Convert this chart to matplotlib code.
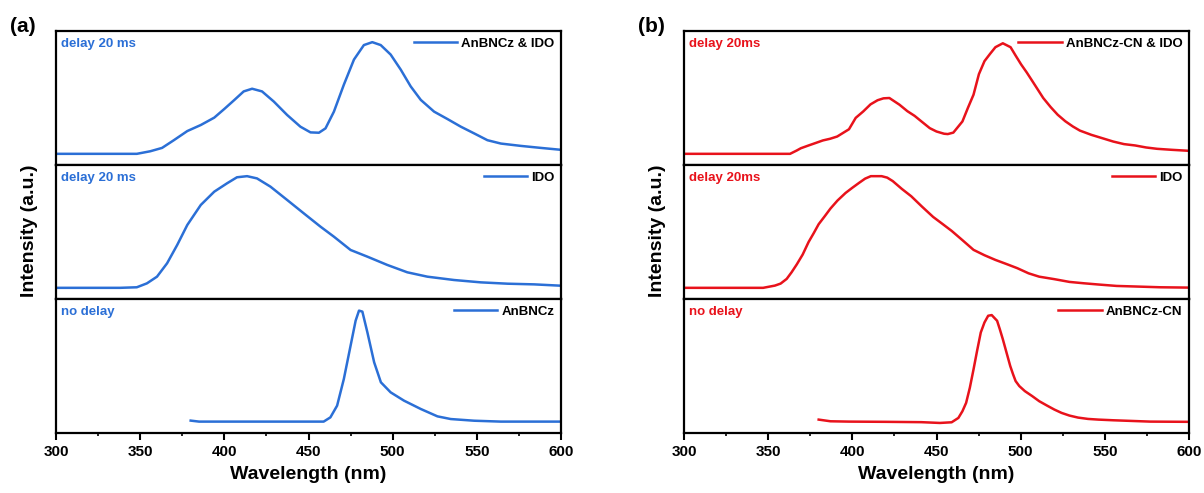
import matplotlib
import matplotlib.pyplot as plt

matplotlib.use("Agg")

plt.rcParams["font.family"] = ["Liberation Sans", "DejaVu Sans"]
plt.rcParams["font.weight"] = "bold"

BLUE = "#2b6fd6"
RED = "#e8121b"

# ---- panel (a) ----
a_mix_wl = [300, 338, 348, 356, 363, 370, 378, 386, 394, 400, 406, 411.5, 416.5, 422.4, 429.4,
            437.3, 445.2, 451.2, 456.2, 460.1, 465.1, 471, 477, 482.9, 487.9, 492.9, 498.8,
            504.8, 510.7, 516.7, 524.6, 532.5, 540.5, 548.4, 556.3, 564.3, 576.2, 588.1, 600]
a_mix_int = [0.0, 0.0, 0.0, 0.023, 0.053, 0.122, 0.204, 0.258, 0.324, 0.402, 0.483, 0.559,
             0.583, 0.559, 0.468, 0.348, 0.243, 0.192, 0.189, 0.228, 0.378, 0.619, 0.844,
             0.974, 1.0, 0.974, 0.889, 0.754, 0.604, 0.483, 0.378, 0.312, 0.243, 0.183,
             0.122, 0.092, 0.071, 0.053, 0.036]

a_ido_wl = [300, 338, 348, 354, 360, 366, 372, 378, 386, 394, 401.6, 407.5, 413.5, 419.4,
            427.4, 437.3, 447.2, 457.1, 465.1, 475, 485, 496.8, 508.7, 520.6, 536.5, 552.4,
            568.3, 584.1, 600]
a_ido_int = [0.0, 0.0, 0.005, 0.04, 0.1, 0.22, 0.384, 0.563, 0.742, 0.861, 0.936, 0.99, 1.0,
             0.98, 0.906, 0.787, 0.667, 0.548, 0.458, 0.339, 0.279, 0.205, 0.139, 0.1, 0.07,
             0.049, 0.037, 0.031, 0.019]

a_an_wl = [380, 385, 404, 426, 445, 459, 463, 467, 471, 475, 478, 480, 482, 485, 489, 493,
           498.8, 506.7, 516.7, 526.6, 534.5, 548.4, 564.3, 600]
a_an_int = [0.011, 0.002, 0.002, 0.002, 0.002, 0.002, 0.04, 0.145, 0.384, 0.682, 0.906, 0.996,
            0.987, 0.8, 0.533, 0.354, 0.264, 0.19, 0.115, 0.049, 0.025, 0.01, 0.002, 0.002]

# ---- panel (b) ----
b_mix_wl = [300, 363, 367, 369.4, 374, 378, 382.5, 386.8, 391, 398, 402, 406.5, 410.8, 415,
            418.5, 422, 428, 432.7, 437, 441.4, 446, 450, 454.5, 456.7, 460, 465.4, 468.7,
            472, 475.2, 478.5, 481.8, 485, 489.4, 494, 497, 500.3, 503.6, 507, 513.4, 517.8,
            522, 526.5, 531, 535.2, 542, 548.3, 555, 561.4, 568, 574.5, 581, 589.8, 600]
b_mix_int = [0.0, 0.0, 0.03, 0.05, 0.075, 0.096, 0.12, 0.135, 0.155, 0.22, 0.322, 0.38,
             0.443, 0.48, 0.497, 0.5, 0.44, 0.382, 0.34, 0.286, 0.23, 0.2, 0.18, 0.177, 0.19,
             0.29, 0.413, 0.53, 0.714, 0.83, 0.895, 0.955, 0.99, 0.955, 0.88, 0.8, 0.729,
             0.65, 0.5, 0.419, 0.35, 0.292, 0.245, 0.208, 0.17, 0.141, 0.11, 0.087, 0.075,
             0.057, 0.045, 0.036, 0.027]

b_ido_wl = [300, 347, 354, 357.4, 361, 363.9, 367, 370.5, 374, 377, 380, 383.6, 387, 391.2,
            396, 399.9, 404, 407.6, 411, 414, 417.4, 420.7, 424, 429.4, 435, 441.4, 448,
            453.4, 459, 465.4, 472, 478.5, 485, 491.6, 498, 504.7, 511, 519.9, 529, 537.4,
            546, 557, 568, 583, 600]
b_ido_int = [0.0, 0.0, 0.02, 0.038, 0.08, 0.139, 0.21, 0.298, 0.41, 0.488, 0.57, 0.641, 0.71,
             0.782, 0.85, 0.895, 0.94, 0.978, 1.0, 1.0, 1.0, 0.987, 0.956, 0.886, 0.82, 0.727,
             0.635, 0.574, 0.51, 0.427, 0.34, 0.292, 0.25, 0.213, 0.176, 0.13, 0.1, 0.078,
             0.053, 0.041, 0.03, 0.017, 0.012, 0.005, 0.002]

b_an_wl = [380, 387, 398, 420, 441, 452, 459, 463, 465.4, 467.6, 469.8, 472, 474.1, 476.3,
           478.5, 480.7, 482.8, 486, 487.6, 489.4, 491.6, 493.8, 495.5, 497, 499.2, 502.5,
           506.9, 511, 515.6, 520, 524.3, 529, 534.1, 540, 546.1, 555, 577, 600]
b_an_int = [0.02, 0.005, 0.002, 0.0, -0.003, -0.01, -0.004, 0.035, 0.095, 0.17, 0.305, 0.47,
            0.635, 0.8, 0.89, 0.95, 0.956, 0.905, 0.83, 0.74, 0.62, 0.5, 0.425, 0.365, 0.32,
            0.275, 0.23, 0.185, 0.146, 0.11, 0.08, 0.056, 0.038, 0.026, 0.02, 0.014, 0.002, 0.0]

panels = [
    ("(a)", BLUE, [
        (a_mix_wl, a_mix_int, "AnBNCz & IDO", "delay 20 ms"),
        (a_ido_wl, a_ido_int, "IDO", "delay 20 ms"),
        (a_an_wl, a_an_int, "AnBNCz", "no delay"),
    ]),
    ("(b)", RED, [
        (b_mix_wl, b_mix_int, "AnBNCz-CN & IDO", "delay 20ms"),
        (b_ido_wl, b_ido_int, "IDO", "delay 20ms"),
        (b_an_wl, b_an_int, "AnBNCz-CN", "no delay"),
    ]),
]

W, H = 1204, 493
fig = plt.figure(figsize=(W / 100, H / 100), dpi=100)

lefts = [56, 684]
width = 505
rows = [(31, 165), (165, 299), (299, 433)]

for p, (tag, color, curves) in enumerate(panels):
    x0 = lefts[p]
    for r, (wl, inten, name, note) in enumerate(curves):
        top, bot = rows[r]
        ax = fig.add_axes([x0 / W, 1 - bot / H, width / W, (bot - top) / H])
        ax.plot(wl, inten, color=color, lw=1.8, label=name)
        ax.set_xlim(300, 600)
        ax.set_ylim(-0.1, 1.1)
        ax.set_yticks([])
        for s in ax.spines.values():
            s.set_linewidth(1.6)
        ax.text(0.01, 0.9, note, transform=ax.transAxes, color=color,
                fontsize=9.5, fontweight="bold", va="center", ha="left")
        ax.legend(loc="upper right", frameon=False, handlelength=3.3,
                  handletextpad=0.3, borderaxespad=0.1,
                  prop={"weight": "bold", "size": 9.5})
        if r < 2:
            ax.set_xticks([])
        else:
            ax.set_xticks([300, 350, 400, 450, 500, 550, 600])
            ax.set_xticks([325, 375, 425, 475, 525, 575], minor=True)
            ax.tick_params(axis="x", which="major", direction="out", length=5,
                           width=1.5, labelsize=11, pad=4)
            ax.tick_params(axis="x", which="minor", direction="out", length=2.5,
                           width=1.2)
            for lbl in ax.get_xticklabels():
                lbl.set_fontweight("bold")
            ax.set_xlabel("Wavelength (nm)", fontsize=14, fontweight="bold", labelpad=5)
    fig.text((x0 - 26) / W, 1 - 231 / H, "Intensity (a.u.)", rotation=90,
             fontsize=14, fontweight="bold", ha="center", va="center")
    fig.text((x0 - 46) / W, 1 - 27 / H, tag, fontsize=15, fontweight="bold",
             ha="left", va="center")

fig.savefig("out.png", dpi=100)
